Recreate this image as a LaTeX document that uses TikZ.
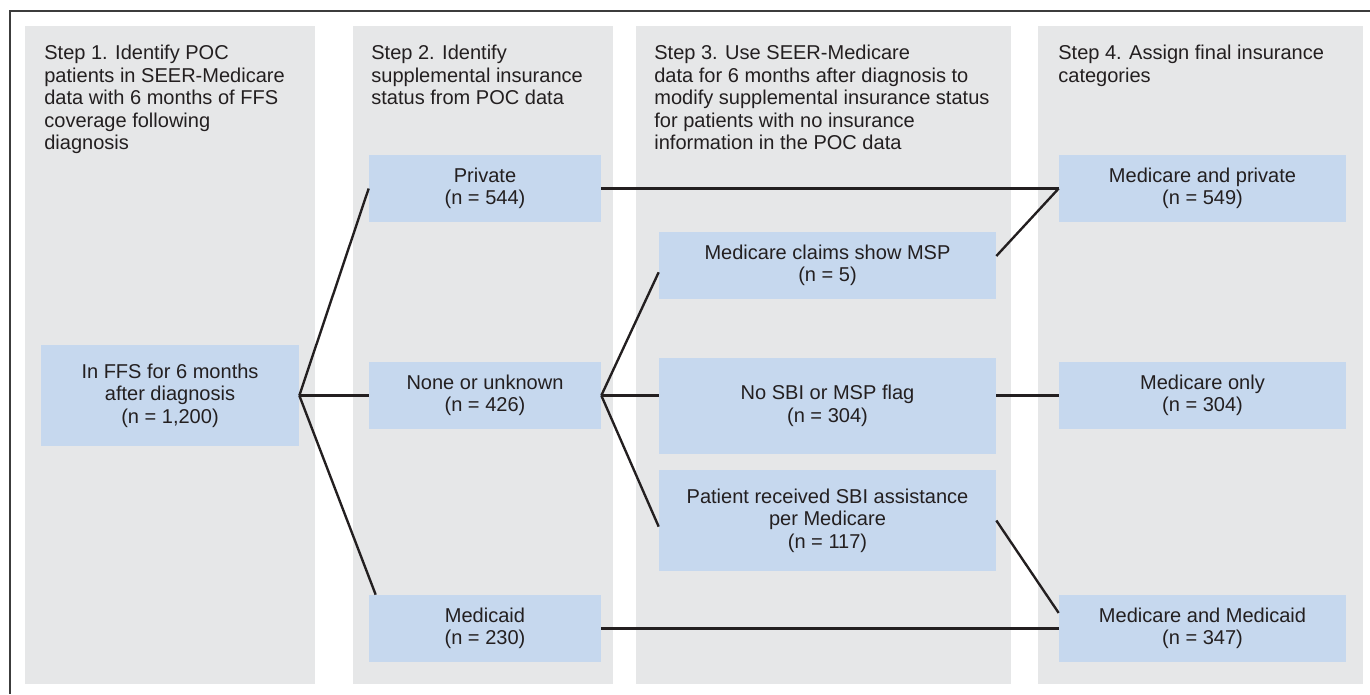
\documentclass[tikz,border=0pt]{standalone}
\usepackage{fontspec}
\setmainfont{Liberation Sans}
\usepackage{xcolor}
\usetikzlibrary{calc}
\definecolor{StageGray}{HTML}{E6E7E8}
\definecolor{StageBlue}{HTML}{C6D8EE}
\definecolor{StageInk}{HTML}{231F20}
\definecolor{StageRule}{HTML}{3C3C3C}
\tikzset{
  stage box/.style={fill=StageBlue,text=StageInk,align=center,inner sep=0pt,
    font=\fontsize{11.4}{12.75}\selectfont},
  stage head/.style={anchor=north west,text=StageInk,align=left,inner sep=0pt,
    font=\fontsize{11.4}{12.75}\selectfont},
  stage link/.style={draw=StageInk,line width=1.35pt}
}

\begin{document}
\begin{tikzpicture}[x=0.02cm,y=-0.02cm]

        \useasboundingbox (0,0) rectangle (1370,694);

        % frame rule, top and left only
        \draw[StageRule,line width=0.8pt] (1370,11) -- (10,11) -- (10,694);

        % the four step columns
        \fill[StageGray] (25,26) rectangle (315,684);
        \fill[StageGray] (353,26) rectangle (613,684);
        \fill[StageGray] (636,26) rectangle (1011,684);
        \fill[StageGray] (1038,26) rectangle (1363,684);

        \node[stage head] (head1) at (44,45)
          {Step 1. Identify POC\\patients in SEER-Medicare\\data with 6 months of FFS\\coverage following\\diagnosis};
        \node[stage head] (head2) at (371,45)
          {Step 2. Identify\\supplemental insurance\\status from POC data};
        \node[stage head] (head3) at (654,45)
          {Step 3. Use SEER-Medicare\\data for 6 months after diagnosis to\\modify supplemental insurance status\\for patients with no insurance\\information in the POC data};
        \node[stage head] (head4) at (1058,45)
          {Step 4. Assign final insurance\\categories};

        % step 1
        \node[stage box,minimum width=5.16cm,minimum height=2.02cm]
          (ffs) at (170,395.5) {In FFS for 6 months\\after diagnosis\\(n = 1,200)};

        % step 2
        \node[stage box,minimum width=4.64cm,minimum height=1.34cm]
          (private) at (485,188.5) {Private\\(n = 544)};
        \node[stage box,minimum width=4.64cm,minimum height=1.34cm]
          (none) at (485,395.5) {None or unknown\\(n = 426)};
        \node[stage box,minimum width=4.64cm,minimum height=1.34cm]
          (medicaid) at (485,628.5) {Medicaid\\(n = 230)};

        % step 3
        \node[stage box,minimum width=6.74cm,minimum height=1.34cm]
          (msp) at (827.5,265.5) {Medicare claims show MSP\\(n = 5)};
        \node[stage box,minimum width=6.74cm,minimum height=1.92cm]
          (nosbi) at (827.5,406) {No SBI or MSP flag\\(n = 304)};
        \node[stage box,minimum width=6.74cm,minimum height=2.02cm]
          (sbi) at (827.5,520.5) {Patient received SBI assistance\\per Medicare\\(n = 117)};

        % step 4
        \node[stage box,minimum width=5.74cm,minimum height=1.34cm]
          (mcprivate) at (1202.5,188.5) {Medicare and private\\(n = 549)};
        \node[stage box,minimum width=5.74cm,minimum height=1.34cm]
          (mconly) at (1202.5,395.5) {Medicare only\\(n = 304)};
        \node[stage box,minimum width=5.74cm,minimum height=1.34cm]
          (mcmedicaid) at (1202.5,628.5) {Medicare and Medicaid\\(n = 347)};

        % links
        \draw[stage link] (ffs.east) -- (private.west);
        \draw[stage link] (ffs.east) -- (none.west);
        \draw[stage link] (ffs.east) -- ($(medicaid.north west)+(7,0)$);

        \draw[stage link] (none.east) -- ($(msp.north west)!0.6!(msp.south west)$);
        \draw[stage link] (none.east) -- (none.east -| nosbi.west);
        \draw[stage link] (none.east) -- ($(sbi.north west)!0.56!(sbi.south west)$);

        \draw[stage link] (private.east) -- (mcprivate.west);
        \draw[stage link] ($(msp.north east)!0.36!(msp.south east)$) -- (mcprivate.west);
        \draw[stage link] (nosbi.east |- mconly.west) -- (mconly.west);
        \draw[stage link] (sbi.east) -- ($(mcmedicaid.north west)!0.27!(mcmedicaid.south west)$);
        \draw[stage link] (medicaid.east) -- (mcmedicaid.west);

      \end{tikzpicture}
\end{document}
